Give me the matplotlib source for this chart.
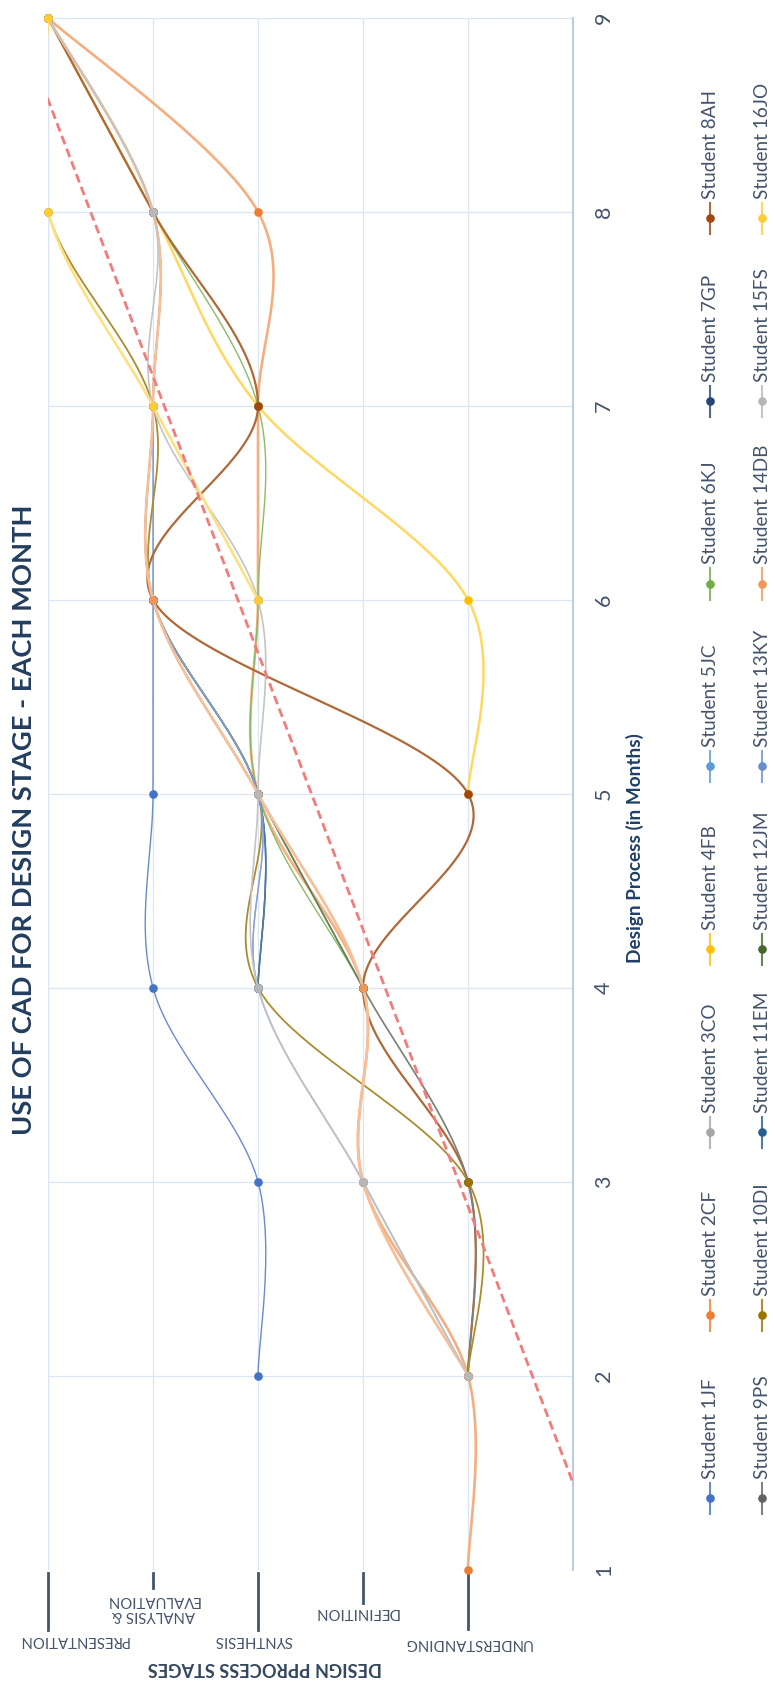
import numpy as np
import matplotlib
matplotlib.use("Agg")
import matplotlib.pyplot as plt
from matplotlib.lines import Line2D
from matplotlib import transforms
from matplotlib.colors import to_rgb

# ---- data -----------------------------------------------------------------
months = [1, 2, 3, 4, 5, 6, 7, 8, 9]
month_labels = [str(m) for m in months]

# stage codes (axis runs 0..5, Presentation at the far end)
U, D, S, A, P = 1, 2, 3, 4, 5
stage_values = [U, D, S, A, P]
stage_labels = ["UNDERSTANDING", "DEFINITION", "SYNTHESIS",
                "ANALYSIS &\nEVALUATION", "PRESENTATION"]
N = np.nan

students = ["Student 1JF", "Student 2CF", "Student 3CO", "Student 4FB",
            "Student 5JC", "Student 6KJ", "Student 7GP", "Student 8AH",
            "Student 9PS", "Student 10DI", "Student 11EM", "Student 12JM",
            "Student 13KY", "Student 14DB", "Student 15FS", "Student 16JO"]

s_1jf = [N, S, S, A, A, A, A, A, P]
s_2cf = [U, U, D, D, S, S, S, S, P]
s_3co = [N, U, D, S, S, A, A, A, P]
s_4fb = [N, N, N, N, U, U, S, A, P]
s_5jc = [N, N, N, S, S, A, A, A, P]
s_6kj = [N, U, U, D, S, S, S, A, P]
s_7gp = [N, N, N, S, S, A, A, A, P]
s_8ah = [N, U, U, D, U, A, S, A, P]
s_9ps = [N, U, U, D, S, A, A, A, P]
s_10di = [N, U, U, S, S, A, A, P, P]
s_11em = [N, N, N, S, S, A, A, A, P]
s_12jm = [N, N, N, D, S, A, A, A, P]
s_13ky = [N, U, D, S, S, A, A, A, P]
s_14db = [N, U, D, D, S, A, A, A, P]
s_15fs = [N, U, D, S, S, S, A, A, P]
s_16jo = [N, N, N, N, N, S, A, P, P]

series = [s_1jf, s_2cf, s_3co, s_4fb, s_5jc, s_6kj, s_7gp, s_8ah,
          s_9ps, s_10di, s_11em, s_12jm, s_13ky, s_14db, s_15fs, s_16jo]

colors = ["#4472C4", "#ED7D31", "#A5A5A5", "#FFC000", "#5B9BD5", "#70AD47",
          "#264478", "#9E480E", "#636363", "#997300", "#255E91", "#43682B",
          "#698ED0", "#F1975A", "#B7B7B7", "#FFCD33"]
widths = [1.0, 1.9, 1.0, 1.8, 1.0, 1.0, 1.1, 1.6,
          1.1, 1.3, 1.1, 1.1, 1.0, 2.0, 1.2, 1.9]

# linear trend (stage value = slope * month + intercept)
trend_slope = 0.701
trend_intercept = -1.014

# ---- styling --------------------------------------------------------------
FONT = ["Lato", "DejaVu Sans"]
plt.rcParams["font.family"] = FONT
GRID = "#DCE6F2"
AXIS = "#B4C7E7"
LABEL = "#44546A"
TITLE = "#223D5E"

W, H = 775, 1684
fig = plt.figure(figsize=(W / 100, H / 100), dpi=100, facecolor="white")


def fx(px):
    return px / W


def fy(py):
    return 1 - py / H


def soften(col, amount):
    c = np.array(to_rgb(col))
    return tuple(c + (1 - c) * amount)


ax_left, ax_right, ax_top, ax_bottom = 48, 573, 18, 1569.5
ax = fig.add_axes([fx(ax_left), fy(ax_bottom),
                   fx(ax_right) - fx(ax_left), fy(ax_top) - fy(ax_bottom)])
ax.set_xlim(5, 0)
ax.set_ylim(1, 9)
ax.set_facecolor("white")
for side in ("left", "top", "bottom"):
    ax.spines[side].set_visible(False)
ax.spines["right"].set_color(AXIS)
ax.spines["right"].set_linewidth(1.3)

ax.set_xticks(stage_values + [5])
ax.set_xticklabels([])
ax.set_yticks(months)
ax.set_yticklabels(month_labels)
ax.yaxis.tick_right()
ax.tick_params(axis="x", length=0)
ax.tick_params(axis="y", length=0, pad=15, labelsize=15.5,
               labelcolor=LABEL, labelrotation=90)
for lab in ax.get_yticklabels():
    lab.set_va("center")
ax.grid(True, color=GRID, lw=0.9, zorder=0)
ax.axvline(5, color=GRID, lw=0.9, zorder=0)
ax.set_axisbelow(True)


def excel_smooth(xs, ys, n=48):
    """Bezier smoothing with 1/6 neighbour tangents (office-style curve)."""
    pts = np.column_stack([xs, ys]).astype(float)
    if len(pts) < 2:
        return pts
    out = []
    t = np.linspace(0, 1, n)[:, None]
    for i in range(len(pts) - 1):
        p0 = pts[i - 1] if i > 0 else pts[i]
        p1, p2 = pts[i], pts[i + 1]
        p3 = pts[i + 2] if i + 2 < len(pts) else pts[i + 1]
        c1 = p1 + (p2 - p0) / 6
        c2 = p2 - (p3 - p1) / 6
        seg = ((1 - t) ** 3) * p1 + 3 * ((1 - t) ** 2) * t * c1 \
            + 3 * (1 - t) * t ** 2 * c2 + t ** 3 * p2
        out.append(seg if i == 0 else seg[1:])
    return np.vstack(out)


m_arr = np.array(months, dtype=float)
for k, (vals, col, lw) in enumerate(zip(series, colors, widths)):
    v = np.array(vals, dtype=float)
    ok = ~np.isnan(v)
    curve = excel_smooth(m_arr[ok], v[ok])
    z = 3 + k * 0.01
    line_col = soften(col, 0.38 if lw >= 1.8 else 0.18)
    ax.plot(curve[:, 1], curve[:, 0], color=line_col, lw=lw,
            solid_capstyle="round", zorder=z)
    ax.plot(v[ok], m_arr[ok], "o", color=col, ms=5.2, mec=col,
            clip_on=False, zorder=z + 0.005)

# trend line
tm = np.linspace(1, 9, 50)
ax.plot(trend_slope * tm + trend_intercept, tm, ls=(0, (3.2, 1.7)),
        color="#F27C7C", lw=2.0, zorder=4)

# ---- stage labels under the plot (upside down) ----------------------------
blend = transforms.blended_transform_factory(ax.transData, fig.transFigure)
leader_len = {U: 56, D: 30, S: 57, A: 15, P: 57}
label_off = {U: (0, 73.5), D: (-7, 42), S: (-5, 70.5), A: (0, 38), P: (25, 70.5)}
stage_texts = []
for val, name in zip(stage_values, stage_labels):
    ax.add_line(Line2D([val, val], [fy(1573), fy(1573 + leader_len[val])],
                       transform=blend, color=LABEL, lw=2.0, clip_on=False))
    dx, dy = label_off[val]
    t = ax.annotate(name, xy=(val, fy(ax_bottom)), xycoords=blend,
                    xytext=(dx, -dy), textcoords="offset pixels",
                    rotation=180, ha="center", va="center",
                    multialignment="center", color=LABEL, fontsize=12,
                    linespacing=1.1, annotation_clip=False)
    stage_texts.append(t)

stage_axis_title = fig.text(fx(265), fy(1668), "DESIGN PPROCESS STAGES",
                            rotation=180, ha="center", va="center",
                            fontsize=15, fontweight="bold", color="#33475E")

month_axis_title = fig.text(fx(635), fy(848), "Design Process (in Months)",
                            rotation=90, ha="center", va="center",
                            fontsize=13, fontweight="bold", color="#1F3F66")

title = fig.text(fx(24), fy(820), "USE OF CAD FOR DESIGN STAGE - EACH MONTH",
                 rotation=90, ha="center", va="center", fontsize=20,
                 fontweight="bold", color=TITLE)

# ---- legend: two columns of rotated entries -------------------------------
legend_texts = []
col_x = [710, 762]
first_y, step = 1498, 182.9
for k, (name, col) in enumerate(zip(students, colors)):
    cx = col_x[k // 8]
    my = first_y - (k % 8) * step
    fig.add_artist(Line2D([fx(cx), fx(cx)], [fy(my + 16), fy(my - 15)],
                          color=soften(col, 0.2), lw=1.5))
    fig.add_artist(Line2D([fx(cx)], [fy(my)], marker="o", ms=5.2,
                          color=col, mec=col))
    t = fig.text(fx(cx), fy(my - 19), name, rotation=90, ha="center",
                 va="bottom", fontsize=14, color=LABEL)
    legend_texts.append(t)

# ---- size text to its available span --------------------------------------
fig.canvas.draw()
r = fig.canvas.get_renderer()


def fit(t, target, along):
    bb = t.get_window_extent(r)
    cur = bb.width if along == "x" else bb.height
    return t.get_fontsize() * target / cur


title.set_fontsize(fit(title, 630, "y"))
month_axis_title.set_fontsize(fit(month_axis_title, 230, "y"))
stage_axis_title.set_fontsize(fit(stage_axis_title, 234, "x"))
leg_size = fit(legend_texts[7], 109, "y")
for t in legend_texts:
    t.set_fontsize(leg_size)
st_size = fit(stage_texts[4], 110, "x")
for t in stage_texts:
    t.set_fontsize(st_size)

fig.savefig("out.png", dpi=100, facecolor="white")
